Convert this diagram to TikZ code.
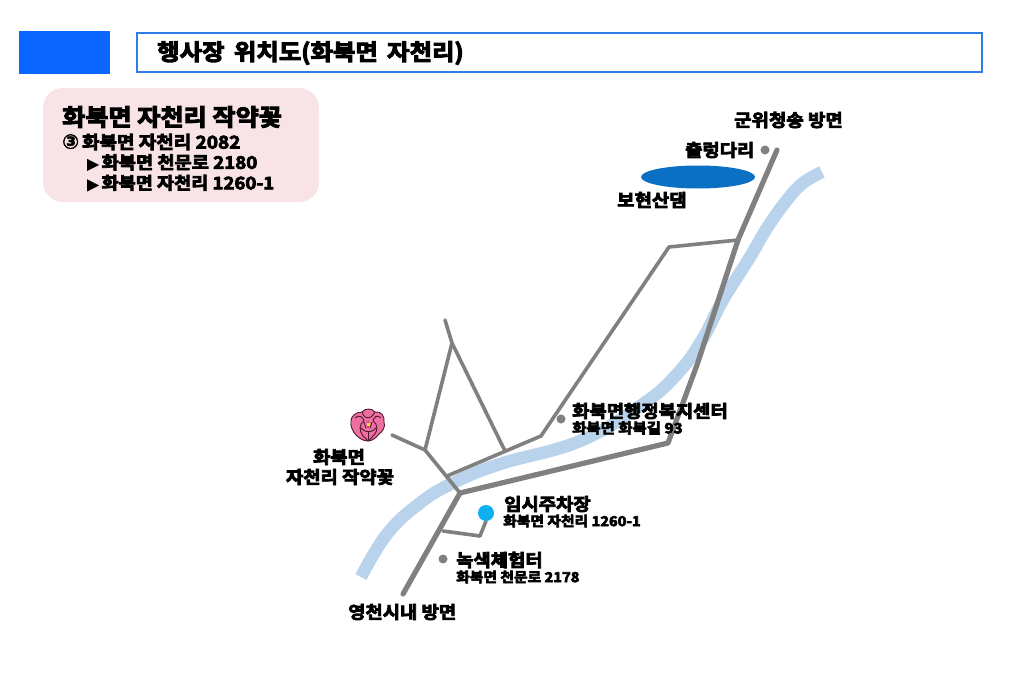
\documentclass[tikz,border=0pt]{standalone}
\usepackage{fontspec}
\usetikzlibrary{shapes.geometric}
\setmainfont{Noto Sans CJK KR}[BoldFont={Noto Sans CJK KR Bold},BoldFeatures={FakeBold=4.5,FakeStretch=1.08}]
\newfontfamily\symfont{DejaVu Sans}[FakeBold=2]
\definecolor{roadgrey}{HTML}{808080}
\definecolor{river}{HTML}{B9D3EC}
\definecolor{lake}{HTML}{0B6FC4}
\definecolor{topblue}{HTML}{0A66FF}
\definecolor{frameblue}{HTML}{2F7BE8}
\definecolor{panelpink}{HTML}{F8E4E6}
\definecolor{parkblue}{HTML}{0DB0F0}
\definecolor{petal}{HTML}{EE6FA0}
\definecolor{petaldark}{HTML}{4A1A30}
\tikzset{
  mainroad/.style={draw=roadgrey,line width=5.2pt,line join=round,line cap=round},
  sideroad/.style={draw=roadgrey,line width=3.6pt,line join=round,line cap=round},
  label/.style={inner sep=0pt,anchor=west,font=\bfseries},
  big/.style={label,font=\fontsize{17.4}{17.4}\bfseries\selectfont},
  small/.style={label,font=\fontsize{13.7}{13.7}\bfseries\selectfont},
  poi/.style={circle,fill=roadgrey,inner sep=0pt,minimum size=9pt},
  petalshape/.style={fill=petal,draw=petaldark,line width=.9pt,line join=round},
  petalline/.style={draw=petaldark,line width=.9pt,line join=round}
}
\begin{document}
\begin{tikzpicture}[x=1pt,y=-1pt]
\useasboundingbox (0,0) rectangle (1015,696);
\fill[white] (0,0) rectangle (1015,696);
% header
\node[fill=topblue,inner sep=0pt,minimum width=91pt,minimum height=43pt] (tab) at (64.5,52) {};
\node[draw=frameblue,line width=2pt,fill=white,inner sep=0pt,minimum width=845pt,minimum height=39pt] (frame) at (559,52) {};
\node[label,font=\fontsize{22.6}{22.6}\bfseries\selectfont] (title) at (157,53) {행사장\ \,위치도(화북면\ \,자천리)};
% panel
\node[fill=panelpink,rounded corners=20pt,inner sep=0pt,minimum width=276pt,minimum height=114pt] (panel) at (181,145) {};
\node[label,font=\fontsize{23.3}{23.3}\bfseries\selectfont] (p1) at (62,117) {화북면 자천리 작약꽃};
\node[label,font=\fontsize{17.6}{17.6}\bfseries\selectfont] (p2) at (62,142) {{\symfont\fontsize{20}{20}\selectfont ③}\,화북면 자천리 2082};
\node[label,font=\fontsize{17.3}{17.3}\bfseries\selectfont] (p3) at (87,162.5) {{\symfont\fontsize{15}{15}\selectfont ▶}\,화북면 천문로 2180};
\node[label,font=\fontsize{17.2}{17.2}\bfseries\selectfont] (p4) at (87,183) {{\symfont\fontsize{15}{15}\selectfont ▶}\,화북면 자천리 1260-1};
% river
\draw[river,line width=12.5pt] plot[smooth,tension=.7] coordinates {(361,577) (387,534) (420,503) (453,483) (500,464) (580,441) (643,404) (678,373) (702,340) (723,300) (750,257) (767,228) (787,200) (803,183) (822,172)};
% lake
\node[ellipse,fill=lake,inner sep=0pt,minimum width=114pt,minimum height=23pt] (dam) at (698,177) {};
% road junctions
\coordinate (north) at (777,150);
\coordinate (nj) at (738,240);
\coordinate (bend) at (668,443);
\coordinate (cross) at (460,493);
\coordinate (south) at (403,594);
\coordinate (b1) at (669,247);
\coordinate (b2) at (541,436);
\coordinate (b3) at (447,476);
\coordinate (t1) at (445,320);
\coordinate (t2) at (452,343);
\coordinate (t3) at (425,450);
\coordinate (t4) at (505,451);
\coordinate (fl) at (392,435);
\coordinate (pk0) at (443,531);
\coordinate (pk1) at (480,536);
% roads
\draw[sideroad] (nj) -- (b1) -- (b2) -- (b3);
\draw[sideroad] (t1) -- (t2) -- (t3);
\draw[sideroad] (t2) -- (t4);
\draw[sideroad] (fl) -- (t3) -- (cross);
\draw[sideroad] (pk0) -- (pk1) -- (486,521);
\draw[mainroad] (north) -- (nj) -- (697,365) -- (bend) -- (cross) -- (south);
% points
\node[circle,fill=parkblue,inner sep=0pt,minimum size=16pt] (park) at (486,513) {};
\node[poi] (center) at (561,419) {};
\node[poi] (green) at (443,559) {};
\node[poi] (bridge) at (765,150) {};
% flower
\begin{scope}[shift={(368,426)}]
\draw[petalshape] (-6,-14) .. controls (-3,-18) and (4,-18) .. (7,-14) .. controls (13,-15) and (17,-10) .. (16,-4)
  .. controls (18,1) and (14,6) .. (11,8) .. controls (8,12) and (4,15) .. (0,15)
  .. controls (-5,15) and (-9,12) .. (-12,9) .. controls (-15,6) and (-18,0) .. (-17,-5)
  .. controls (-17,-10) and (-12,-14) .. (-6,-14) -- cycle;
\draw[petalline] (-13,-8) .. controls (-9,-12) and (-5,-9) .. (-4,-5) .. controls (-9,-2) and (-9,5) .. (-5,10) .. controls (-3,12) and (-1,13) .. (0,15);
\draw[petalline] (13,-8) .. controls (9,-12) and (6,-9) .. (5,-5) .. controls (10,-2) and (10,5) .. (6,9) .. controls (4,12) and (2,13) .. (0,15);
\draw[petalline] (-6,-14) .. controls (-4,-9) and (-2,-8) .. (0,-8) .. controls (2,-8) and (4,-9) .. (7,-14);
\draw[petalline] (-7,2) .. controls (-3,7) and (4,7) .. (8,2);
\draw[petalline] (0,6) -- (0,14);
\draw[petaldark,line width=.9pt] (-4,-4) -- (-2,2) (0,-5) -- (0,2) (4,-4) -- (2,2);
\fill[yellow!80!orange] (-1.5,-3) rectangle (1.5,0);
\end{scope}
% labels
\node[label,font=\fontsize{17.5}{17.5}\bfseries\selectfont] (l1) at (734,120) {군위청송 방면};
\node[big] (l2) at (685,150) {출렁다리};
\node[label,font=\fontsize{17.5}{17.5}\bfseries\selectfont] (l3) at (617,200) {보현산댐};
\node[big] (l4) at (572,411) {화북면행정복지센터};
\node[label,font=\fontsize{14.3}{14.3}\bfseries\selectfont] (l5) at (572,428) {화북면 화북길 93};
\node[big,anchor=center] (l6) at (339,457) {화북면};
\node[big,anchor=center] (l7) at (340,477) {자천리 작약꽃};
\node[big] (l8) at (504,504) {임시주차장};
\node[small] (l9) at (503,521) {화북면 자천리 1260-1};
\node[big] (l10) at (456,560) {녹색체험터};
\node[small] (l11) at (456,577) {화북면 천문로 2178};
\node[big] (l12) at (348,612) {영천시내 방면};
\end{tikzpicture}
\end{document}
